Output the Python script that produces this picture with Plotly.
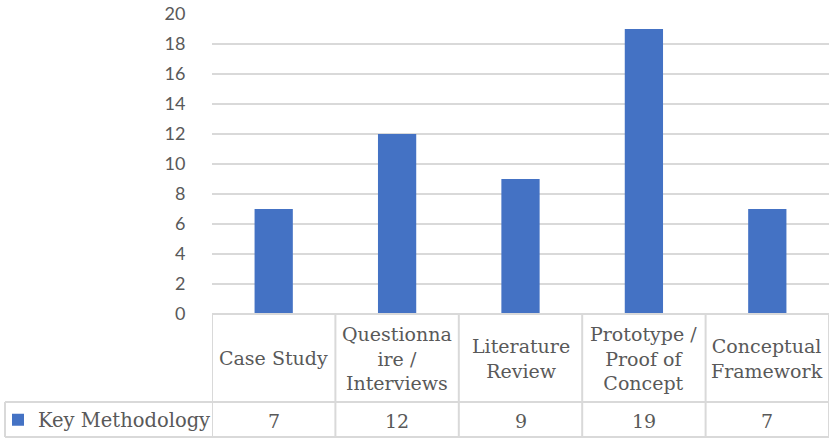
import plotly.graph_objects as go

# Data
categories = ["Case Study", "Questionnaire / Interviews", "Literature Review",
              "Prototype / Proof of Concept", "Conceptual Framework"]
header_labels = ["Case Study", "Questionna<br>ire /<br>Interviews", "Literature<br>Review",
                 "Prototype /<br>Proof of<br>Concept", "Conceptual<br>Framework"]
values = [7, 12, 9, 19, 7]
series_name = "Key Methodology"
y_ticks = list(range(0, 21, 2))

W, H = 831, 439
L, R, T, B = 212, 2, 14, 125
plot_w = W - L - R
plot_h = H - T - B

BAR = "#4472C4"
GRID = "#D9D9D9"
TEXT = "#595959"
SERIF = "DejaVu Serif"


def px_x(px):
    return (px - L) / plot_w


def px_y(py):
    return (H - B - py) / plot_h


xs = list(range(len(categories)))

fig = go.Figure()
fig.add_trace(go.Bar(
    x=xs, y=values, name=series_name, marker=dict(color=BAR, line=dict(width=0)),
    width=0.31, showlegend=True,
))

# Data table below the axis: header row with category names, value row
row1_top, row1_bot, row2_bot = H - B, 402, 437
for i, (lab, v) in enumerate(zip(header_labels, values)):
    fig.add_annotation(x=i, xref="x", y=px_y((row1_top + row1_bot) / 2), yref="paper",
                       text=lab, showarrow=False, align="center",
                       font=dict(family=SERIF, size=19, color=TEXT),
                       xanchor="center", yanchor="middle")
    fig.add_annotation(x=i, xref="x", y=px_y((row1_bot + row2_bot) / 2 + 1), yref="paper",
                       text=str(v), showarrow=False,
                       font=dict(family=SERIF, size=19, color=TEXT),
                       xanchor="center", yanchor="middle")

line = dict(color=GRID, width=2)
n = len(categories)
# vertical cell borders
for k in range(n + 1):
    fig.add_shape(type="line", xref="x", yref="paper", x0=k - 0.5, x1=k - 0.5,
                  y0=px_y(row1_top), y1=px_y(row2_bot), line=line)
# horizontal borders
fig.add_shape(type="line", xref="x", yref="paper", x0=-0.5, x1=n - 0.5,
              y0=px_y(row1_top), y1=px_y(row1_top), line=line)
fig.add_shape(type="line", xref="paper", yref="paper", x0=px_x(5), x1=px_x(212),
              y0=px_y(row1_bot), y1=px_y(row1_bot), line=line)
fig.add_shape(type="line", xref="x", yref="paper", x0=-0.5, x1=n - 0.5,
              y0=px_y(row1_bot), y1=px_y(row1_bot), line=line)
fig.add_shape(type="line", xref="paper", yref="paper", x0=px_x(5), x1=px_x(212),
              y0=px_y(row2_bot), y1=px_y(row2_bot), line=line)
fig.add_shape(type="line", xref="x", yref="paper", x0=-0.5, x1=n - 0.5,
              y0=px_y(row2_bot), y1=px_y(row2_bot), line=line)
fig.add_shape(type="line", xref="paper", yref="paper", x0=px_x(5), x1=px_x(5),
              y0=px_y(row1_bot), y1=px_y(row2_bot), line=line)

fig.update_layout(
    width=W, height=H,
    margin=dict(l=L, r=R, t=T, b=B, autoexpand=False),
    plot_bgcolor="white", paper_bgcolor="white",
    legend=dict(x=px_x(-2), y=px_y(420), xanchor="left", yanchor="middle",
                font=dict(family=SERIF, size=19.5, color=TEXT),
                bgcolor="rgba(0,0,0,0)", itemwidth=30),
    xaxis=dict(range=[-0.5, n - 0.5], showticklabels=False, showgrid=False,
               zeroline=False, fixedrange=True),
    yaxis=dict(range=[0, 20], tickvals=y_ticks, showgrid=True, gridcolor=GRID,
               gridwidth=1.5, zeroline=False,
               tickfont=dict(family="Lato", size=18, color=TEXT),
               ticks="outside", ticklen=22, tickcolor="rgba(0,0,0,0)"),
)

fig.write_html("out.html")
